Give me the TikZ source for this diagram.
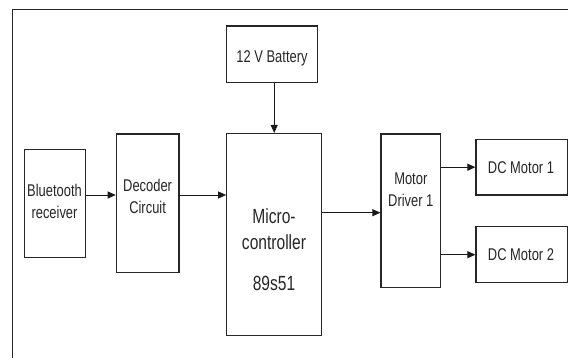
\documentclass[tikz,border=0pt]{standalone}
\usepackage{fontspec}
\setmainfont{Liberation Sans}
\newfontfamily\narrowsf[FakeStretch=0.76]{Liberation Sans}
\usetikzlibrary{arrows.meta}

\tikzset{
  blk/.style={draw=black!85, line width=1.1pt, inner sep=0pt},
  lbl/.style={text=black!85, align=center, inner sep=0pt, font=\narrowsf\fontsize{17}{22}\selectfont},
  biglbl/.style={lbl, font=\narrowsf\fontsize{20.5}{26}\selectfont},
  arr/.style={->, draw=black!90, line width=0.9pt}
}

\begin{document}
\begin{tikzpicture}[x=1pt, y=1pt, >={Triangle[length=8pt,width=7pt]}]
    \useasboundingbox (0,0) rectangle (568,358);
    \draw[line width=1.2pt, black!85] (12.5,0) -- (12.5,348.5) -- (568,348.5);

    \node[blk, minimum width=91pt, minimum height=56.7pt] (bat) at (272.2,303.6) {};
    \node[blk, minimum width=95pt, minimum height=202.2pt] (micro) at (274.2,123.4) {};
    \node[blk, minimum width=61.4pt, minimum height=107.6pt] (bt) at (55,154.5) {};
    \node[blk, minimum width=62.7pt, minimum height=138.3pt] (dec) at (147.6,154.8) {};
    \node[blk, minimum width=59.7pt, minimum height=153.7pt] (drv) at (410.8,147.1) {};
    \node[blk, minimum width=91.3pt, minimum height=55.7pt] (mot1) at (521.6,190.8) {};
    \node[blk, minimum width=91.3pt, minimum height=56pt] (mot2) at (521.6,103.3) {};

    \node[lbl, anchor=base] (bat-t) at (272,295.3) {12 V Battery};
    \node[lbl, anchor=base] (bt-t) at (54.5,139) {Bluetooth\\receiver};
    \node[lbl, anchor=base] (dec-t) at (147.6,144.7) {Decoder\\Circuit};
    \node[lbl, anchor=base] (drv-t) at (410.8,151.3) {Motor\\Driver 1};
    \node[biglbl, anchor=base] (micro-t) at (274,67.3) {Micro-\\controller\\[14.7pt]89s51};
    \node[lbl, anchor=base] (mot1-t) at (521,184.5) {DC Motor 1};
    \node[lbl, anchor=base] (mot2-t) at (521,97) {DC Motor 2};

    \coordinate (s1) at ([yshift=8.5pt]bt.east);
    \coordinate (s2) at ([yshift=8.2pt]dec.east);
    \coordinate (s3) at ([yshift=21.9pt]micro.east);
    \draw[arr] (micro.north |- bat.south) -- (micro.north);
    \draw[arr] (s1) -- (s1 -| dec.west);
    \draw[arr] (s2) -- (s2 -| micro.west);
    \draw[arr] (s3) -- (s3 -| drv.west);
    \draw[arr] (mot1.west -| drv.east) -- (mot1.west);
    \draw[arr] (mot2.west -| drv.east) -- (mot2.west);
\end{tikzpicture}
\end{document}
